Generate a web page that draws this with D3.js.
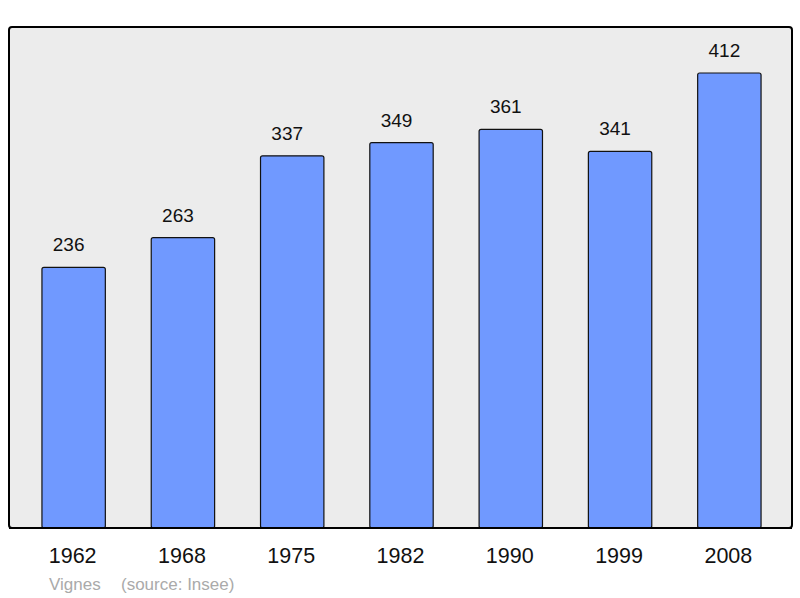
<!DOCTYPE html>
<html>
<head>
<meta charset="utf-8">
<script src="https://cdn.jsdelivr.net/npm/d3@7"></script>
<style>
  body { margin: 0; background: #fff; }
  text { font-family: "Liberation Sans", Arial, sans-serif; }
</style>
</head>
<body>
<div id="target"></div>
<script>
const years = ["1962", "1968", "1975", "1982", "1990", "1999", "2008"];
const population = [236, 263, 337, 349, 361, 341, 412];
const footerName = "Vignes";
const footerSource = "(source: Insee)";

const width = 800,
  height = 598;

const svg = d3.select("#target").append("svg")
  .attr("width", width)
  .attr("height", height);

// panel
svg.append("rect")
  .attr("x", 9)
  .attr("y", 27)
  .attr("width", 783)
  .attr("height", 501)
  .attr("rx", 3)
  .style("fill", "#ececec")
  .style("stroke", "#000")
  .style("stroke-width", 2);

const x = d3.scaleBand()
  .domain(years)
  .range([19, 784])
  .paddingInner(0.42)
  .paddingOuter(0.21);

const y = d3.scaleLinear()
  .domain([0, 412])
  .range([528, 73]);

const data = years.map((yr, i) => ({ year: yr, value: population[i] }));

svg.selectAll(".bar")
  .data(data)
  .enter()
  .append("rect")
  .attr("class", "bar")
  .attr("x", (d) => x(d.year))
  .attr("y", (d) => y(d.value))
  .attr("width", x.bandwidth())
  .attr("height", (d) => y(0) - y(d.value))
  .attr("rx", 2)
  .style("fill", "#7099ff")
  .style("stroke", "#111")
  .style("stroke-width", 1.2);

// value labels sit a little left of the bar centre
svg.selectAll(".val")
  .data(data)
  .enter()
  .append("text")
  .attr("class", "val")
  .attr("x", (d) => x(d.year) + x.bandwidth() / 2 - 5)
  .attr("y", (d) => y(d.value) - 16)
  .attr("text-anchor", "middle")
  .style("font-size", "19px")
  .style("fill", "#111")
  .text((d) => d.value);

// redraw bottom edge over bars
svg.append("line")
  .attr("x1", 9).attr("x2", 792)
  .attr("y1", 528).attr("y2", 528)
  .style("stroke", "#000")
  .style("stroke-width", 2);

const xAxis = svg.append("g")
  .attr("transform", "translate(0,528)")
  .call(d3.axisBottom(x).tickSize(0).tickPadding(20));
xAxis.select(".domain").remove();
xAxis.selectAll("text")
  .attr("dx", "-1")
  .style("font-size", "21.5px")
  .style("font-family", "'Liberation Sans', Arial, sans-serif")
  .style("fill", "#111");

svg.append("text")
  .attr("x", 49)
  .attr("y", 590)
  .style("font-size", "17px")
  .style("fill", "#aaa")
  .text(footerName);

svg.append("text")
  .attr("x", 121)
  .attr("y", 590)
  .style("font-size", "17px")
  .style("fill", "#aaa")
  .text(footerSource);
</script>
</body>
</html>
